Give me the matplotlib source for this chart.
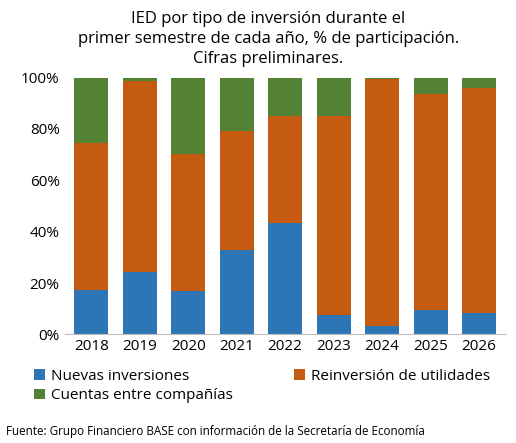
import numpy as np
import matplotlib.pyplot as plt
from matplotlib.ticker import PercentFormatter

plt.rcParams['font.family'] = ['Open Sans', 'DejaVu Sans']

years = ['2018', '2019', '2020', '2021', '2022', '2023', '2024', '2025', '2026']
nuevas = [17.2, 24.2, 17.0, 32.8, 43.4, 7.4, 3.1, 9.4, 8.2]
reinversion = [57.4, 74.6, 53.3, 46.5, 41.8, 77.8, 96.5, 84.0, 87.9]
cuentas = [100 - a - b for a, b in zip(nuevas, reinversion)]

fig = plt.figure(figsize=(5.16, 4.43), dpi=100)
ax = fig.add_axes([0.125, 0.245, 0.855, 0.58])

x = np.arange(len(years))
w = 0.7
b1 = ax.bar(x, nuevas, w, color='#2e75b6', label='Nuevas inversiones')
b2 = ax.bar(x, reinversion, w, bottom=nuevas, color='#c55a11', label='Reinversión de utilidades')
b3 = ax.bar(x, cuentas, w, bottom=np.add(nuevas, reinversion), color='#548235',
            label='Cuentas entre compañías')

ax.set_ylim(0, 100)
ax.set_xlim(-0.55, len(years) - 0.45)
ax.set_yticks(range(0, 101, 20))
ax.yaxis.set_major_formatter(PercentFormatter(decimals=0))
ax.set_xticks(x, years)
ax.tick_params(length=0, labelsize=11)
for s in ['top', 'right', 'left']:
    ax.spines[s].set_visible(False)
ax.spines['bottom'].set_color('#bfbfbf')

fig.text(0.52, 0.975, 'IED por tipo de inversión durante el\nprimer semestre de cada año, % de participación.\nCifras preliminares.',
         ha='center', va='top', fontsize=12, linespacing=1.35)

# row-major order: ncol fills by column, so reorder
ax.legend([b1, b3, b2], ['Nuevas inversiones', 'Cuentas entre compañías', 'Reinversión de utilidades'],
          loc='upper left', bbox_to_anchor=(-0.1, -0.08), ncol=2, frameon=False,
          fontsize=11, handlelength=0.7, handleheight=0.7, columnspacing=4.0,
          handletextpad=0.4, labelspacing=0.3)

fig.text(0.012, 0.018, 'Fuente: Grupo Financiero BASE con información de la Secretaría de Economía',
         fontsize=8.4)

fig.savefig('out.png', dpi=100)
